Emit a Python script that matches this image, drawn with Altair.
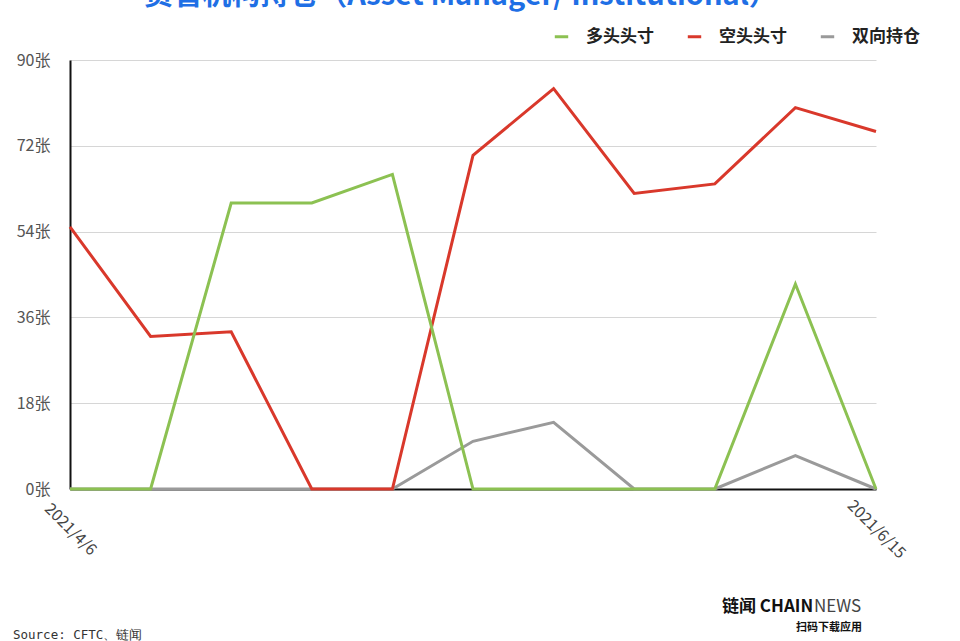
import altair as alt
import pandas as pd

# Weekly CFTC report dates
dates = ["2021/4/6", "2021/4/13", "2021/4/20", "2021/4/27", "2021/5/4", "2021/5/11",
         "2021/5/18", "2021/5/25", "2021/6/1", "2021/6/8", "2021/6/15"]

series_names = ["多头头寸", "空头头寸", "双向持仓"]
series_colors = ["#8cc152", "#d9382b", "#9a9a9a"]

long_pos = [0, 0, 60, 60, 66, 0, 0, 0, 0, 43, 0]
short_pos = [55, 32, 33, 0, 0, 70, 84, 62, 64, 80, 75]
spread_pos = [0, 0, 0, 0, 0, 10, 14, 0, 0, 7, 0]

y_ticks = [0, 18, 36, 54, 72, 90]

title_text = "资管机构持仓（Asset Manager/ Institutional）"
source_text = "Source: CFTC、链闻"

FONT = "Noto Sans CJK SC"

rows = []
for name, vals in zip(series_names, [long_pos, short_pos, spread_pos]):
    for d, v in zip(dates, vals):
        rows.append({"date": d, "series": name, "value": v})
df = pd.DataFrame(rows)

W, H = 806, 429

x_enc = alt.X(
    "date:O", sort=dates, scale=alt.Scale(padding=0),
    axis=alt.Axis(title=None, values=[dates[0], dates[-1]], labelAngle=45,
                  labelAlign="center", labelBaseline="middle", labelPadding=40,
                  ticks=False, domainColor="#111", domainWidth=2,
                  labelFont=FONT, labelFontSize=16, labelColor="#444"),
)
y_enc = alt.Y(
    "value:Q", scale=alt.Scale(domain=[0, 90], nice=False),
    axis=alt.Axis(title=None, values=y_ticks, labelExpr="datum.value + '张'",
                  ticks=False, labelPadding=20, domainColor="#111", domainWidth=2,
                  gridColor="#d6d6d6", gridWidth=1,
                  labelFont=FONT, labelFontSize=16, labelColor="#555"),
)
color_enc = alt.Color(
    "series:N", sort=series_names,
    scale=alt.Scale(domain=series_names, range=series_colors),
    legend=alt.Legend(title=None, orient="none", legendX=483, legendY=-32,
                      direction="horizontal", symbolType="stroke",
                      symbolStrokeWidth=3, symbolSize=180, columnPadding=27,
                      labelFont=FONT, labelFontSize=17, labelFontWeight="bold",
                      labelColor="#222", labelOffset=16),
)

def series_layer(name):
    return alt.Chart(df).transform_filter(
        alt.datum.series == name
    ).mark_line(strokeWidth=3, strokeJoin="miter").encode(x=x_enc, y=y_enc, color=color_enc)

# gray drawn first so the other two sit on top of it along the zero line
lines = series_layer("双向持仓") + series_layer("空头头寸") + series_layer("多头头寸")

title = alt.Chart(pd.DataFrame({"t": [title_text]})).mark_text(
    font=FONT, fontSize=29, fontWeight="bold", color="#1f6fe5", align="center", baseline="middle"
).encode(text="t:N", x=alt.value(391), y=alt.value(-64))

source = alt.Chart(pd.DataFrame({"t": [source_text]})).mark_text(
    font="DejaVu Sans Mono", fontSize=12.5, color="#333", align="left", baseline="middle"
).encode(text="t:N", x=alt.value(-57), y=alt.value(575))

logo_a = alt.Chart(pd.DataFrame({"t": ["链闻 CHAIN"]})).mark_text(
    font=FONT, fontSize=17, fontWeight="bold", color="#111", align="left", baseline="middle"
).encode(text="t:N", x=alt.value(652), y=alt.value(547))
logo_b = alt.Chart(pd.DataFrame({"t": ["NEWS"]})).mark_text(
    font=FONT, fontSize=17, color="#444", align="left", baseline="middle"
).encode(text="t:N", x=alt.value(744), y=alt.value(547))
logo_c = alt.Chart(pd.DataFrame({"t": ["扫码下载应用"]})).mark_text(
    font=FONT, fontSize=11, fontWeight="bold", color="#111", align="right", baseline="middle"
).encode(text="t:N", x=alt.value(792), y=alt.value(568))

chart = (lines + title + source + logo_a + logo_b + logo_c).properties(
    width=W, height=H,
    autosize=alt.AutoSizeParams(type="none"),
    padding={"left": 70, "top": 60, "right": 84, "bottom": 152},
    background="white",
).configure_view(stroke=None)

chart.save("out.html", embed_options={"renderer": "svg", "actions": False})
